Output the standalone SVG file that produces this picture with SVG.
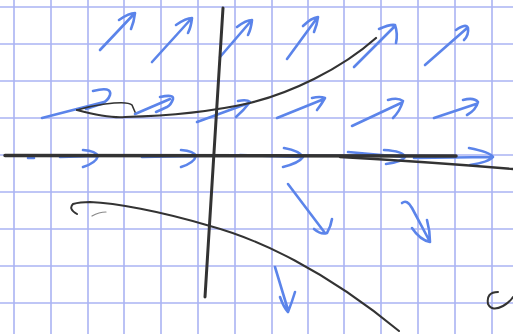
<svg xmlns="http://www.w3.org/2000/svg" width="513" height="334" viewBox="0 0 513 334">
<defs>
<style>
.grid line{stroke:#aab3f3;stroke-width:1.6}
.ink{fill:none;stroke:#333333;stroke-linecap:round;stroke-linejoin:round}
.blue{fill:none;stroke:#5b84ea;stroke-width:2.6;stroke-linecap:round;stroke-linejoin:round}
</style>
</defs>
<rect width="513" height="334" fill="#ffffff"/>
<g class="grid" id="grid">
<line x1="14" y1="0" x2="14" y2="334"/>
<line x1="51" y1="0" x2="51" y2="334"/>
<line x1="88" y1="0" x2="88" y2="334"/>
<line x1="124" y1="0" x2="124" y2="334"/>
<line x1="161" y1="0" x2="161" y2="334"/>
<line x1="198" y1="0" x2="198" y2="334"/>
<line x1="235" y1="0" x2="235" y2="334"/>
<line x1="272" y1="0" x2="272" y2="334"/>
<line x1="308" y1="0" x2="308" y2="334"/>
<line x1="344" y1="0" x2="344" y2="334"/>
<line x1="381" y1="0" x2="381" y2="334"/>
<line x1="418" y1="0" x2="418" y2="334"/>
<line x1="455" y1="0" x2="455" y2="334"/>
<line x1="492" y1="0" x2="492" y2="334"/>
<line x1="0" y1="7" x2="513" y2="7"/>
<line x1="0" y1="44" x2="513" y2="44"/>
<line x1="0" y1="81" x2="513" y2="81"/>
<line x1="0" y1="118" x2="513" y2="118"/>
<line x1="0" y1="155" x2="513" y2="155"/>
<line x1="0" y1="192" x2="513" y2="192"/>
<line x1="0" y1="229" x2="513" y2="229"/>
<line x1="0" y1="266" x2="513" y2="266"/>
<line x1="0" y1="303" x2="513" y2="303"/>
</g>
<g id="arrows">
<!-- row 1 -->
<path class="blue" d="M100,50 L134,14 M119,20 Q129,13 135,13 Q134,22 131,29"/>
<path class="blue" d="M152,62 L191,19 M176,25 Q186,18 192,18 Q191,27 188,33"/>
<path class="blue" d="M220,57 L251,21 M237,27 Q246,20 252,20 Q251,29 248,35"/>
<path class="blue" d="M287,59 L317,18 M303,26 Q311,18 318,17 Q317,25 314,32"/>
<path class="blue" d="M354,67 L394,27 M379,29 Q390,24 395,25 Q398,34 396,43"/>
<path class="blue" d="M425,65 L466,29 M456,30 Q466,23 468,28 Q469,35 464,40"/>
<!-- row 2 -->
<path class="blue" d="M42,118 L104,102 M93,91 Q112,86 110,95 Q108,101 101,104 L86,109"/>
<path class="blue" d="M135,114 L170,99 M160,97 Q174,94 173,99 Q171,105 167,107 L156,112"/>
<path class="blue" d="M197,122 L249,103 M238,101 Q247,99 250,102 Q244,110 236,117"/>
<path class="blue" d="M277,118 L324,99 M312,98 Q320,96 325,98 Q321,105 317,110"/>
<path class="blue" d="M352,126 L401,103 M388,100 Q398,97 403,101 Q400,111 393,118"/>
<path class="blue" d="M434,118 L476,104 M463,100 Q474,97 478,102 Q476,110 467,115"/>
<!-- row 3 -->
<path class="blue" d="M28,158 L34,158 M60,157 L97,156 M83,150 Q96,151 98,156 Q96,163 83,167"/>
<path class="blue" d="M142,157 L195,156 M181,150 Q194,151 196,156 Q194,163 181,167"/>
<path class="blue" d="M240,155 L302,157 M284,148 Q300,151 303,157 Q299,163 283,167"/>
<path class="blue" d="M348,152 L404,157 M384,150 Q403,151 405,157 Q402,162 386,164"/>
<path class="blue" d="M414,158 L492,157 M469,148 Q490,152 493,157 Q489,162 470,165"/>
<!-- row 4 -->
<path class="blue" d="M288,184 L325,233 M314,229 Q321,235 327,233 Q331,226 332,219"/>
<path class="blue" d="M402,203 Q407,199 412,208 L429,240 M412,228 Q420,240 430,242 Q430,231 427,220"/>
<path class="blue" d="M275,267 L288,310 M280,297 Q284,308 288,312 Q292,302 295,292"/>
</g>
<g id="axes">
<path class="ink" stroke-width="3.5" d="M5,155.5 L456,156"/>
<path class="ink" stroke-width="2.4" d="M340,157 Q430,162 513,169"/>
<path class="ink" stroke-width="3" d="M223,8 L205,297"/>
</g>
<g id="curves">
<path class="ink" stroke-width="2.2" d="M77,110 C100,116 115,118 125,117 C165,116 210,112 250,103 C290,93 340,70 376,38"/>
<path class="ink" stroke-width="1.6" d="M77,110 Q90,106 105,104 Q128,101 132,105 L135,112"/>
<path class="ink" stroke-width="2" d="M77,214 Q68,209 73,204 Q80,202 90,202 C115,203 160,211 210,226 C258,239 325,270 399,331"/>
<path fill="none" stroke="#888" stroke-width="1.2" stroke-linecap="round" d="M92,216 Q99,212 106,212"/>
<path class="ink" stroke-width="2" d="M498,292 Q486,292 488,304 Q492,312 503,306 Q510,302 513,297"/>
</g>
</svg>
